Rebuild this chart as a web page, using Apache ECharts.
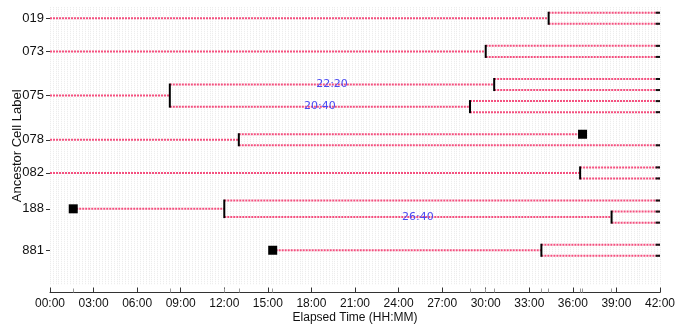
<!DOCTYPE html>
<html>
<head>
<meta charset="utf-8">
<script src="https://cdn.jsdelivr.net/npm/echarts@6/dist/echarts.min.js"></script>
<style>html,body{margin:0;padding:0;background:#fff}#c{width:686px;height:329px}</style>
</head>
<body>
<div id="c"></div>
<script>
// ---- data (times in minutes, rows = leaf slots from top) ----
const END = 2520;
const ancestorLabels = ['019', '073', '075', '078', '082', '188', '881'];
const ancestorRows   = [0.5, 3.5, 7.5, 11.5, 14.5, 17.75, 21.5];
const xTickLabels = ['00:00','03:00','06:00','09:00','12:00','15:00','18:00','21:00','24:00','27:00','30:00','33:00','36:00','39:00','42:00'];
// cells: [start, end, row]
const cells = [
  [0, 2060, 0.5], [2060, END, 0], [2060, END, 1],
  [0, 1800, 3.5], [1800, END, 3], [1800, END, 4],
  [0, 495, 7.5], [495, 1835, 6.5], [495, 1735, 8.5],
  [1835, END, 6], [1835, END, 7], [1735, END, 8], [1735, END, 9],
  [0, 780, 11.5], [780, 2200, 11], [780, END, 12],
  [0, 2190, 14.5], [2190, END, 14], [2190, END, 15],
  [96, 720, 17.75], [720, END, 17], [720, 2320, 18.5], [2320, END, 18], [2320, END, 19],
  [920, 2030, 21.5], [2030, END, 21], [2030, END, 22]
];
// divisions: [time, topRow, bottomRow]
const divisions = [
  [2060, 0, 1], [1800, 3, 4], [495, 6.5, 8.5], [1835, 6, 7], [1735, 8, 9],
  [780, 11, 12], [2190, 14, 15], [720, 17, 18.5], [2320, 18, 19], [2030, 21, 22]
];
// appearance / death markers: [time, row]
const squares = [[96, 17.75], [920, 21.5], [2200, 11]];

// ---- helpers ----
function pad(n){ return (n < 10 ? '0' : '') + n; }
function hhmm(min){ const h = Math.floor(min / 60); const m = Math.round(min - h * 60); return pad(h) + ':' + pad(m); }
function hasDiv(t, row, inclusive){
  return divisions.some(d => d[0] === t && (inclusive ? (row >= d[1] && row <= d[2]) : (row > d[1] && row < d[2])));
}
const cycleLabels = cells
  .filter(c => hasDiv(c[0], c[2], true) && hasDiv(c[1], c[2], false) && c[0] > 0)
  .map(c => [(c[0] + c[1]) / 2, c[2], hhmm(c[1] - c[0])]);
const eventTicks = [...new Set(divisions.map(d => d[0]).concat(squares.map(s => s[0])))];

const PINK = '#f4507f';
const FONT = 'Liberation Sans';

const chart = echarts.init(document.getElementById('c'));
chart.setOption({
  animation: false,
  grid: { left: 50, right: 26, top: 7.2, bottom: 44.5, containLabel: false, outerBoundsMode: 'none' },
  xAxis: [
    {
      type: 'value', min: 0, max: END, interval: 180, position: 'bottom', offset: 8,
      name: 'Elapsed Time (HH:MM)', nameLocation: 'middle', nameGap: 19, nameMoveOverlap: false,
      nameTextStyle: { fontFamily: FONT, fontSize: 12, color: '#111' },
      axisLine: { show: true, onZero: false, lineStyle: { color: '#333', width: 1 } },
      axisTick: { show: true, inside: true, length: 5, lineStyle: { color: '#333' } },
      axisLabel: { margin: 5, fontFamily: FONT, fontSize: 12, color: '#111',
        formatter: v => xTickLabels[Math.round(v / 180)] || '' },
      splitLine: { show: false }
    },
    {
      type: 'value', min: 0, max: END, position: 'bottom', offset: 8,
      axisLine: { show: false, onZero: false },
      axisTick: { show: true, inside: true, length: 4, customValues: eventTicks, lineStyle: { color: '#999' } },
      axisLabel: { show: false },
      splitLine: { show: false }
    },
    {
      type: 'value', min: 0, max: END, interval: 12, position: 'bottom',
      axisLine: { show: false, onZero: false }, axisTick: { show: false }, axisLabel: { show: false },
      splitLine: { show: true, lineStyle: { color: '#e9e9e9', width: 1, type: [1, 1] } }
    }
  ],
  yAxis: {
    type: 'value', inverse: true, min: -0.5, max: 24.6,
    name: 'Ancestor Cell Label', nameLocation: 'middle', nameGap: 26, nameMoveOverlap: false,
    nameTextStyle: { fontFamily: FONT, fontSize: 13, color: '#111' },
    axisLine: { show: false, onZero: false },
    axisTick: { show: true, length: 4, customValues: ancestorRows, lineStyle: { color: '#333' } },
    axisLabel: { margin: 6, fontFamily: FONT, fontSize: 13, color: '#111', customValues: ancestorRows,
      formatter: v => { const i = ancestorRows.findIndex(r => Math.abs(r - v) < 1e-6); return i >= 0 ? ancestorLabels[i] : ''; } },
    splitLine: { show: false }
  },
  series: [
    {
      type: 'custom', xAxisIndex: 0, z: 3,
      encode: { x: [0, 1], y: 2 },
      data: cells,
      renderItem: (params, api) => {
        const t0 = api.value(0), t1 = api.value(1), r = api.value(2);
        const s = api.coord([t0, r]), e = api.coord([t1, r]);
        const ch = [{ type: 'line', shape: { x1: s[0], y1: s[1], x2: e[0], y2: e[1] },
          style: { stroke: PINK, lineWidth: 2, lineDash: [2, 1] } }];
        if (t1 >= END) {
          const b = api.coord([END - 18, r]);
          ch.push({ type: 'line', shape: { x1: b[0], y1: b[1], x2: e[0], y2: e[1] },
            style: { stroke: '#111', lineWidth: 2 } });
        }
        return { type: 'group', children: ch };
      }
    },
    {
      type: 'custom', xAxisIndex: 0, z: 4,
      encode: { x: 0, y: [1, 2] },
      data: divisions,
      renderItem: (params, api) => {
        const a = api.coord([api.value(0), api.value(1)]), b = api.coord([api.value(0), api.value(2)]);
        return { type: 'line', shape: { x1: a[0], y1: a[1] - 1, x2: b[0], y2: b[1] + 1 },
          style: { stroke: '#000', lineWidth: 2 } };
      }
    },
    {
      type: 'scatter', xAxisIndex: 0, z: 5, symbol: 'rect', symbolSize: 9,
      itemStyle: { color: '#000', opacity: 1 }, data: squares
    },
    {
      type: 'custom', xAxisIndex: 0, z: 6,
      encode: { x: 0, y: 1 },
      data: cycleLabels,
      renderItem: (params, api) => {
        const p = api.coord([api.value(0), api.value(1)]);
        return { type: 'text', x: p[0], y: p[1],
          style: { text: cycleLabels[params.dataIndex][2], fill: '#4a4af2', font: '11px "DejaVu Sans"',
            align: 'center', verticalAlign: 'middle' } };
      }
    }
  ]
});
</script>
</body>
</html>
